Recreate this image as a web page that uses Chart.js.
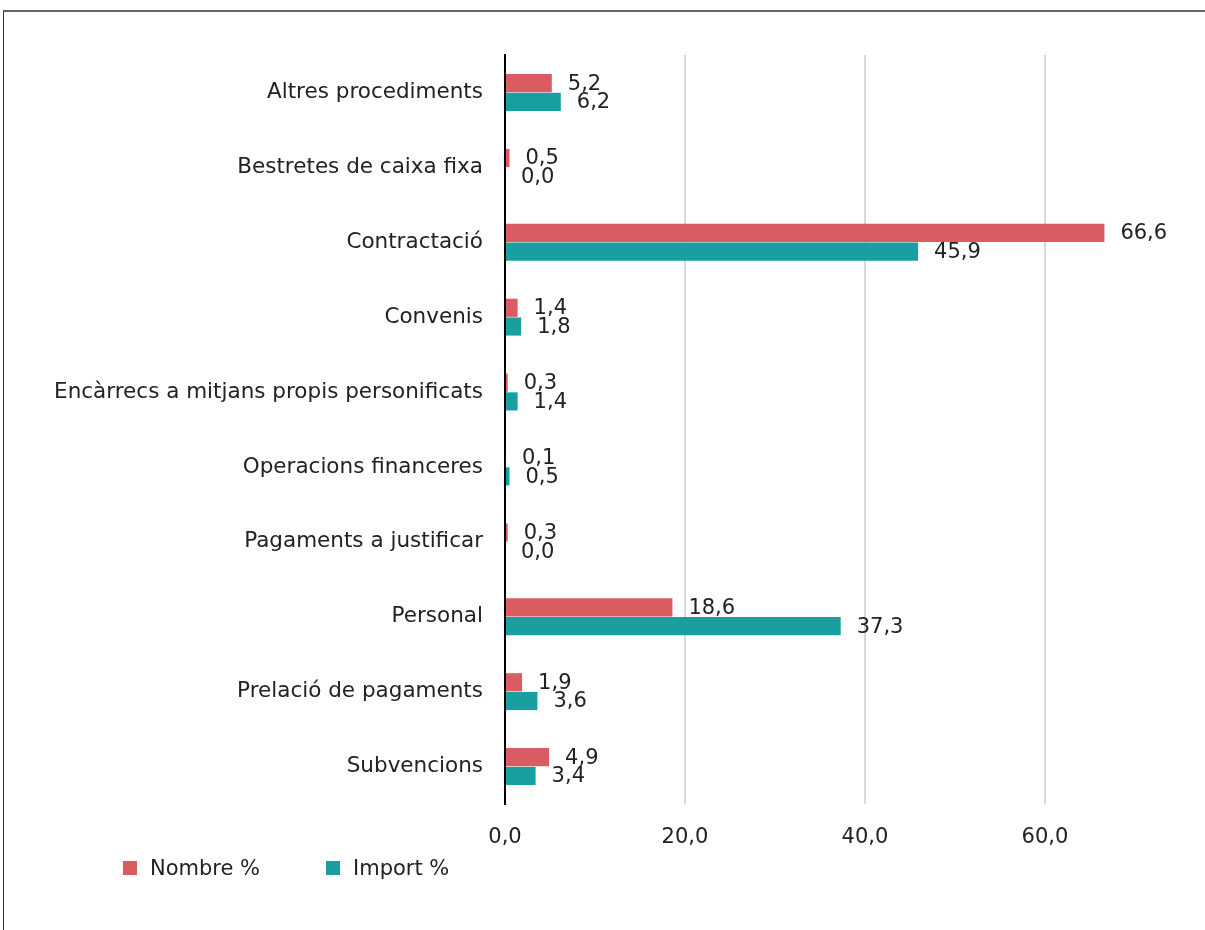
<!DOCTYPE html>
<html>
<head>
<meta charset="utf-8">
<script src="https://cdn.jsdelivr.net/npm/chart.js@4"></script>
<style>
  body { margin: 0; background: #fff; font-family: 'DejaVu Sans', sans-serif; }
  #wrap { position: relative; width: 1205px; height: 930px; overflow: hidden; }
  #frame { position: absolute; left: 3px; top: 10px; width: 1300px; height: 1000px;
           border-left: 1px solid #333; border-top: 2px solid #666; }
  #bioChart { position: absolute; left: 0; top: 0; }
  .leg { position: absolute; top: 855px; font-size: 21px; color: #222; line-height: 26px; }
  .leg i { display: inline-block; width: 14px; height: 14px; vertical-align: 0px; margin-right: 13px; }
</style>
</head>
<body>
<div id="wrap">
  <div id="frame"></div>
  <canvas id="bioChart" width="1205" height="930"></canvas>
  <div class="leg" style="left:123px"><i style="background:#d95c63"></i>Nombre %</div>
  <div class="leg" style="left:326px"><i style="background:#1a9fa0"></i>Import %</div>
</div>
<script>
const categories = ['Altres procediments', 'Bestretes de caixa fixa', 'Contractació', 'Convenis',
  'Encàrrecs a mitjans propis personificats', 'Operacions financeres', 'Pagaments a justificar',
  'Personal', 'Prelació de pagaments', 'Subvencions'];
const nombre = [5.2, 0.5, 66.6, 1.4, 0.3, 0.1, 0.3, 18.6, 1.9, 4.9];
const importPct = [6.2, 0.0, 45.9, 1.8, 1.4, 0.5, 0.0, 37.3, 3.6, 3.4];

const fmt = v => Number(v).toFixed(1).replace('.', ',');
const FONT = "'DejaVu Sans', sans-serif";

// etichette a destra delle barre
const valueLabels = {
  id: 'valueLabels',
  afterDatasetsDraw(chart) {
    const ctx = chart.ctx;
    ctx.save();
    ctx.font = '21px ' + FONT;
    ctx.fillStyle = '#222';
    ctx.textBaseline = 'middle';
    ctx.textAlign = 'left';
    chart.data.datasets.forEach((ds, di) => {
      chart.getDatasetMeta(di).data.forEach((bar, i) => {
        ctx.fillText(fmt(ds.data[i]), bar.x + 16, bar.y + 1);
      });
    });
    ctx.restore();
  }
};

new Chart(document.getElementById('bioChart').getContext('2d'), {
  type: 'bar',
  data: {
    labels: categories,
    datasets: [
      { label: 'Nombre %', data: nombre, backgroundColor: '#d95c63' },
      { label: 'Import %', data: importPct, backgroundColor: '#1a9fa0' }
    ]
  },
  options: {
    indexAxis: 'y',
    responsive: false,
    animation: false,
    events: [],
    categoryPercentage: 0.5,
    barPercentage: 0.97,
    layout: { padding: { left: 0, top: 55, right: 25, bottom: 66 } },
    plugins: { legend: { display: false }, tooltip: { enabled: false } },
    scales: {
      x: {
        min: 0, max: 75,
        afterBuildTicks: s => { s.ticks = s.ticks.filter(t => t.value % 20 === 0); },
        afterFit: s => { s.height = 60; },
        ticks: { stepSize: 20, padding: 21, color: '#222', font: { size: 21, family: FONT }, callback: v => fmt(v) },
        grid: { color: '#d9d9d9', lineWidth: 2, drawTicks: false },
        border: { display: false }
      },
      y: {
        afterFit: s => { s.width = 505; },
        ticks: { padding: 22, color: '#222', font: { size: 21.5, family: FONT } },
        grid: { display: false, drawTicks: false },
        border: { color: '#000', width: 2 }
      }
    }
  },
  plugins: [valueLabels]
});
</script>
</body>
</html>
